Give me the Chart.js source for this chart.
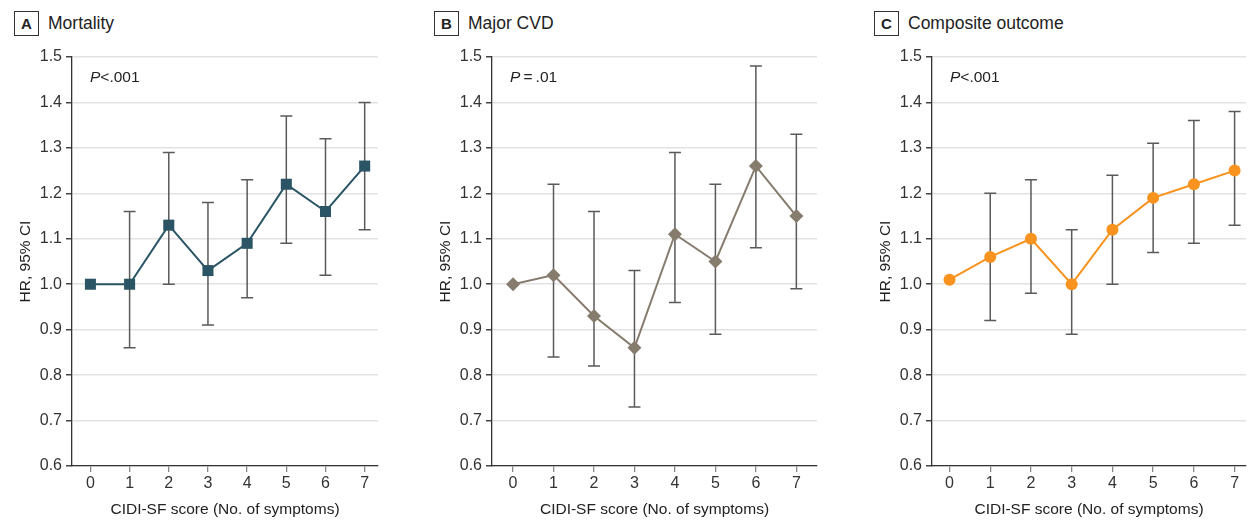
<!DOCTYPE html>
<html>
<head>
<meta charset="utf-8">
<script src="https://cdn.jsdelivr.net/npm/chart.js@4.4.1/dist/chart.umd.min.js"></script>
<style>
    body { margin: 0; background: #fff; width: 1252px; height: 521px; position: relative; overflow: hidden;
           font-family: "Liberation Sans", Arial, sans-serif; color: #222; }
    .panel { position: absolute; top: 0; height: 521px; }
    .head { position: absolute; top: 11px; left: 14px; display: flex; align-items: center; font-size: 17.5px; color: #222; }
    .tag { width: 23px; height: 23px; border: 1px solid #333; font-weight: bold; font-size: 15px;
           display: flex; align-items: center; justify-content: center; margin-right: 9px; box-sizing: content-box; }
    canvas { position: absolute; left: 0; top: 0; }
</style>
</head>
<body>
<div id="panel0" class="panel" style="left:0;width:400px"></div>
<div id="panel1" class="panel" style="left:420px;width:420px"></div>
<div id="panel2" class="panel" style="left:860px;width:392px"></div>

<script>
// ===== Data =====
const scores = [0, 1, 2, 3, 4, 5, 6, 7];

const mortalityHR   = [1.00, 1.00, 1.13, 1.03, 1.09, 1.22, 1.16, 1.26];
const mortalityLow  = [null, 0.86, 1.00, 0.91, 0.97, 1.09, 1.02, 1.12];
const mortalityHigh = [null, 1.16, 1.29, 1.18, 1.23, 1.37, 1.32, 1.40];

const cvdHR   = [1.00, 1.02, 0.93, 0.86, 1.11, 1.05, 1.26, 1.15];
const cvdLow  = [null, 0.84, 0.82, 0.73, 0.96, 0.89, 1.08, 0.99];
const cvdHigh = [null, 1.22, 1.16, 1.03, 1.29, 1.22, 1.48, 1.33];

const compositeHR   = [1.01, 1.06, 1.10, 1.00, 1.12, 1.19, 1.22, 1.25];
const compositeLow  = [null, 0.92, 0.98, 0.89, 1.00, 1.07, 1.09, 1.13];
const compositeHigh = [null, 1.20, 1.23, 1.12, 1.24, 1.31, 1.36, 1.38];

const panelLetters = ['A', 'B', 'C'];
const panelTitles = ['Mortality', 'Major CVD', 'Composite outcome'];
const pValues = ['<.001', '\u2009=\u2009.01', '<.001'];
const yTitle = 'HR, 95% CI';
const xTitle = 'CIDI-SF score (No. of symptoms)';

// ===== Panel styling =====
const panels = [
    { hr: mortalityHR, low: mortalityLow, high: mortalityHigh, color: '#2b5565', point: 'rect', radius: 7.8,
      width: 400, padRight: 22, xMin: -0.47, xMax: 7.34 },
    { hr: cvdHR, low: cvdLow, high: cvdHigh, color: '#867c6e', point: 'rectRot', radius: 7,
      width: 420, padRight: 23, xMin: -0.52, xMax: 7.51 },
    { hr: compositeHR, low: compositeLow, high: compositeHigh, color: '#f7931e', point: 'circle', radius: 6,
      width: 392, padRight: 0, xMin: -0.43, xMax: 7.28 }
];

const FONT = "'Liberation Sans', Arial, sans-serif";
Chart.defaults.font.family = FONT;
Chart.defaults.color = '#333';

// Error bars, drawn behind the markers
const errorBarsPlugin = {
    id: 'errorBars',
    beforeDatasetsDraw(chart) {
        const { ctx, scales: { x, y } } = chart;
        const ds = chart.data.datasets[0];
        ctx.save();
        ctx.strokeStyle = '#5a5a5a';
        ctx.lineWidth = 1.5;
        ds.data.forEach((pt, k) => {
            if (ds.lower[k] == null) return;
            const px = x.getPixelForValue(pt.x);
            const yl = y.getPixelForValue(ds.lower[k]);
            const yh = y.getPixelForValue(ds.upper[k]);
            ctx.beginPath();
            ctx.moveTo(px, yh); ctx.lineTo(px, yl);
            ctx.moveTo(px - 6, yh); ctx.lineTo(px + 6, yh);
            ctx.moveTo(px - 6, yl); ctx.lineTo(px + 6, yl);
            ctx.stroke();
        });
        ctx.restore();
    }
};

// P value label in the top left of the plot
const pLabelPlugin = {
    id: 'pLabel',
    afterDatasetsDraw(chart, args, opts) {
        const { ctx, chartArea } = chart;
        const x0 = chartArea.left + 18, y0 = chartArea.top + 21;
        ctx.save();
        ctx.fillStyle = '#222';
        ctx.textBaseline = 'middle';
        ctx.font = 'italic 15.5px ' + FONT;
        ctx.fillText('P', x0, y0);
        const w = ctx.measureText('P').width;
        ctx.font = '15.5px ' + FONT;
        ctx.fillText(opts.text, x0 + w, y0);
        ctx.restore();
    }
};

function makePanel(i) {
    const p = panels[i];
    const host = document.getElementById('panel' + i);

    const head = document.createElement('div');
    head.className = 'head';
    head.innerHTML = '<span class="tag">' + panelLetters[i] + '</span><span>' + panelTitles[i] + '</span>';
    host.appendChild(head);

    const canvas = document.createElement('canvas');
    canvas.width = p.width;
    canvas.height = 521;
    host.appendChild(canvas);

    return new Chart(canvas, {
        type: 'line',
        data: {
            datasets: [{
                data: scores.map((s, k) => ({ x: s, y: p.hr[k] })),
                lower: p.low,
                upper: p.high,
                borderColor: p.color,
                backgroundColor: p.color,
                borderWidth: 2,
                pointStyle: p.point,
                pointRadius: p.radius,
                pointBorderWidth: 0,
                tension: 0
            }]
        },
        options: {
            responsive: false,
            animation: false,
            layout: { padding: { left: 0, right: p.padRight, top: 57, bottom: 0 } },
            plugins: {
                legend: { display: false },
                tooltip: { enabled: false },
                pLabel: { text: pValues[i] }
            },
            scales: {
                x: {
                    type: 'linear',
                    min: p.xMin,
                    max: p.xMax,
                    afterBuildTicks: s => { s.ticks = scores.map(v => ({ value: v })); },
                    afterFit: s => { s.height = 55; },
                    grid: { drawOnChartArea: false, tickLength: 6, tickColor: '#888', lineWidth: 1.3 },
                    border: { color: '#333', width: 1.3 },
                    ticks: { padding: 2, color: '#333', font: { size: 16 } },
                    title: { display: true, text: xTitle, color: '#222', font: { size: 15.5 }, padding: { top: 0, bottom: 2 } }
                },
                y: {
                    min: 0.6,
                    max: 1.5,
                    afterFit: s => { s.width = 72; },
                    grid: { color: '#e2e2e2', lineWidth: 1.5, tickLength: 6, tickColor: '#444' },
                    border: { color: '#333', width: 1.3 },
                    ticks: { stepSize: 0.1, padding: 4, color: '#333', font: { size: 16 },
                             callback: v => v.toFixed(1) },
                    title: { display: true, text: yTitle, color: '#222', font: { size: 15.5 }, padding: { top: 16, bottom: 0 } }
                }
            }
        },
        plugins: [errorBarsPlugin, pLabelPlugin]
    });
}

panels.forEach((p, i) => makePanel(i));
</script>
</body>
</html>
